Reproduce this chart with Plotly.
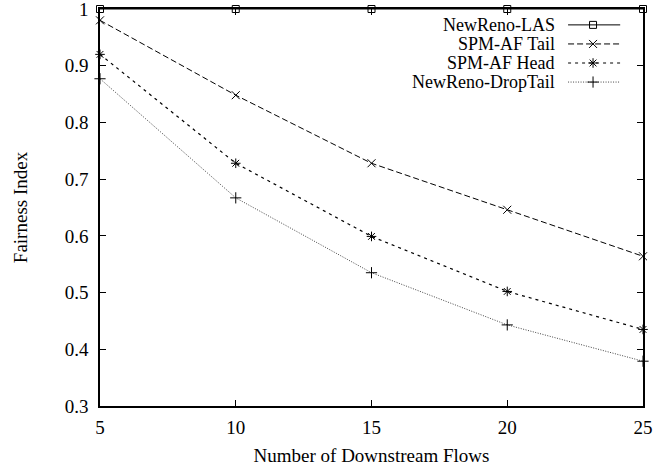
import plotly.graph_objects as go

flows = [5, 10, 15, 20, 25]
newreno_las = [1.0, 1.0, 1.0, 1.0, 1.0]
spm_af_tail = [0.980, 0.848, 0.728, 0.646, 0.564]
spm_af_head = [0.920, 0.728, 0.599, 0.502, 0.435]
newreno_droptail = [0.877, 0.667, 0.535, 0.443, 0.379]
series_names = ["NewReno-LAS", "SPM-AF Tail", "SPM-AF Head", "NewReno-DropTail"]
yticks = [0.3, 0.4, 0.5, 0.6, 0.7, 0.8, 0.9, 1.0]
ytick_text = ["0.3", "0.4", "0.5", "0.6", "0.7", "0.8", "0.9", "1"]
xticks = [5, 10, 15, 20, 25]

FONT = "Liberation Serif"
styles = [
    dict(dash="solid", color="black", width=1, symbol="square-open", size=7),
    dict(dash="6px,3px", color="black", width=1, symbol="x-thin-open", size=8),
    dict(dash="3px,4px", color="black", width=1.2, symbol="asterisk-open", size=8),
    dict(dash="1px,1.5px", color="#444444", width=1, symbol="cross-thin-open", size=8),
]
data = [newreno_las, spm_af_tail, spm_af_head, newreno_droptail]

fig = go.Figure()
for name, ys, st in zip(series_names, data, styles):
    fig.add_trace(go.Scatter(
        x=flows, y=ys, mode="lines+markers", name=name, showlegend=False,
        cliponaxis=False,
        line=dict(color=st["color"], width=st["width"], dash=st["dash"]),
        marker=dict(symbol=st["symbol"], size=st["size"], color="black",
                    line=dict(color="black", width=1)),
    ))

# custom gnuplot-like legend (text right, sample at right) on an overlay axis
leg_rows = [0.960, 0.912, 0.864, 0.816]
for name, st, ry in zip(series_names, styles, leg_rows):
    fig.add_trace(go.Scatter(
        x=[0.862, 0.908, 0.958], y=[ry, ry, ry], xaxis="x2", yaxis="y2",
        mode="lines", showlegend=False, hoverinfo="skip",
        line=dict(color=st["color"], width=st["width"], dash=st["dash"]),
    ))
    fig.add_trace(go.Scatter(
        x=[0.908], y=[ry], xaxis="x2", yaxis="y2", mode="markers",
        showlegend=False, hoverinfo="skip",
        marker=dict(symbol=st["symbol"], size=st["size"], color="black",
                    line=dict(color="black", width=1)),
    ))
    fig.add_annotation(x=0.840, y=ry, xref="x2", yref="y2", text=name,
                       showarrow=False, xanchor="right", yanchor="middle",
                       borderpad=0,
                       font=dict(family=FONT, size=18, color="black"))

axis_common = dict(showgrid=False, zeroline=False, showline=True, linecolor="black",
                   linewidth=1.5, mirror="ticks", ticks="inside", ticklen=6,
                   tickcolor="black", tickwidth=1, automargin=False,
                   ticklabeloverflow="allow",
                   tickfont=dict(family=FONT, size=19, color="black"))

fig.update_layout(
    width=668, height=468,
    margin=dict(l=100, r=25, t=9, b=62),
    paper_bgcolor="white", plot_bgcolor="white",
    xaxis=dict(range=[5, 25], tickvals=xticks, ticktext=[str(v) for v in xticks],
               title=dict(text="Number of Downstream Flows", standoff=12,
                          font=dict(family=FONT, size=19, color="black")),
               ticklabelstandoff=3,
               **axis_common),
    yaxis=dict(range=[0.3, 1.0], tickvals=yticks, ticktext=ytick_text,
               title=dict(text="Fairness Index", standoff=32,
                          font=dict(family=FONT, size=19, color="black")),
               ticklabelstandoff=6,
               **axis_common),
    xaxis2=dict(range=[0, 1], overlaying="x", visible=False, fixedrange=True),
    yaxis2=dict(range=[0, 1], overlaying="y", visible=False, fixedrange=True),
    showlegend=False,
)

fig.write_html("out.html", config={"displayModeBar": False},
               post_script="document.body.style.margin='0';document.body.style.padding='0';document.body.style.overflow='hidden';")
